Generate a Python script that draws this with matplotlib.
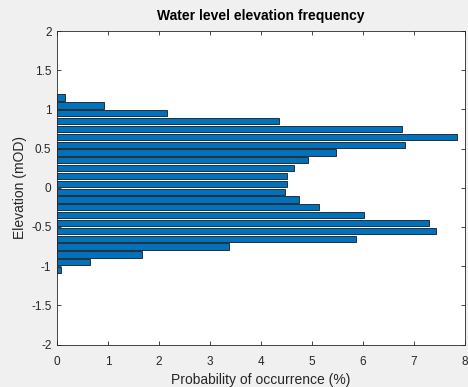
import matplotlib
matplotlib.use("Agg")
import matplotlib.pyplot as plt
import numpy as np

elevation = [1.15, 1.05, 0.95, 0.85, 0.75, 0.65, 0.55, 0.45, 0.35, 0.25, 0.15, 0.05,
             -0.05, -0.15, -0.25, -0.35, -0.45, -0.55, -0.65, -0.75, -0.85, -0.95, -1.05]
probability = [0.15, 0.93, 2.15, 4.36, 6.76, 7.85, 6.82, 5.48, 4.93, 4.65, 4.50, 4.50,
               4.47, 4.75, 5.13, 6.01, 7.30, 7.43, 5.86, 3.37, 1.66, 0.64, 0.07]
x_ticks = [0, 1, 2, 3, 4, 5, 6, 7, 8]
y_ticks = [-2, -1.5, -1, -0.5, 0, 0.5, 1, 1.5, 2]
y_ticklabels = ["-2", "-1.5", "-1", "-0.5", "0", "0.5", "1", "1.5", "2"]

plt.rcParams['font.family'] = ['Liberation Sans', 'DejaVu Sans']
fig = plt.figure(figsize=(4.68, 3.87), dpi=100, facecolor='#F0F0F0')
ax = fig.add_axes([57/468, 1-344.5/387, (465-57)/468, (344.5-31)/387])
ax.set_facecolor('white')
ax.barh(elevation, probability, height=0.08, color='#0072BD', edgecolor='#1a1a1a', linewidth=0.6)
ax.set_xlim(0, 8)
ax.set_ylim(-2, 2)
ax.set_xticks(x_ticks)
ax.set_yticks(y_ticks)
ax.set_yticklabels(y_ticklabels)
ax.tick_params(direction='in', top=True, right=True, length=3, width=0.6,
               colors='#262626', labelsize=8.5, labelcolor='#262626')
ax.tick_params(axis='x', pad=8)
ax.tick_params(axis='y', pad=4)
for s in ax.spines.values():
    s.set_color('#262626')
    s.set_linewidth(0.6)
ax.set_title('Water level elevation frequency', fontsize=10, fontweight='bold', color='black', pad=8)
ax.set_xlabel('Probability of occurrence (%)', fontsize=10, color='#262626', labelpad=4)
ax.set_ylabel('Elevation (mOD)', fontsize=10, color='#262626', labelpad=3)
fig.savefig('out.png', dpi=100, facecolor=fig.get_facecolor())
